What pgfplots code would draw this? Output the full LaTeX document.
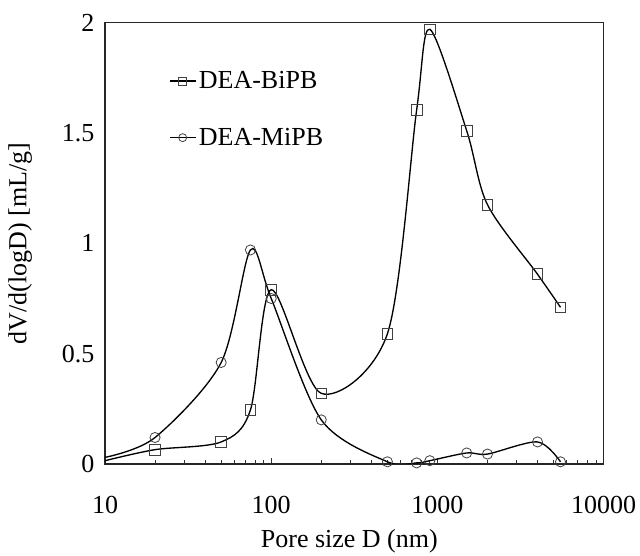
\documentclass[border=0pt]{standalone}
\usepackage{fontspec}
\setmainfont{Liberation Serif}
\usepackage{pgfplots}
\usepackage{pgfplotstable}
\pgfplotsset{compat=1.18}

% pore size distributions
\pgfplotstableread{
D     v
10    0.015
20    0.065
50    0.10
75    0.245
100   0.79
200   0.32
500   0.59
750   1.605
900   1.97
1500  1.51
2000  1.175
4000  0.86
5500  0.71
}\bipb

\pgfplotstableread{
D     v
10    0.03
20    0.12
50    0.46
75    0.97
100   0.75
200   0.20
500   0.01
750   0.005
900   0.015
1500  0.05
2000  0.045
4000  0.10
5500  0.01
}\mipb

\begin{document}
\begin{tikzpicture}
\path[use as bounding box] (-78.75pt,-69pt) rectangle (401.25pt,348pt);
\begin{axis}[
    at={(0,0)}, anchor=south west,
    scale only axis,
    width=374pt, height=331pt,
    xmode=log, log basis x=10,
    xmin=10, xmax=10000,
    ymin=0, ymax=2,
    xtick={10,100,1000,10000},
    xticklabels={10,100,1000,10000},
    minor xtick={20,30,40,50,60,70,80,90,200,300,400,500,600,700,800,900,
                 2000,3000,4000,5000,6000,7000,8000,9000},
    ytick={0,0.5,1,1.5,2},
    yticklabels={0,0.5,1,1.5,2},
    xtick pos=bottom, ytick pos=left,
    tick align=inside,
    major tick length=4.5pt, minor tick length=3pt,
    y tick style={draw=none},
    x tick style={black!80, line width=0.7pt},
    axis line style={line width=1.1pt, black!85},
    font=\fontsize{19.5}{23}\selectfont,
    xticklabel style={anchor=center, yshift=-31pt},
    yticklabel style={anchor=east, xshift=-4.5pt},
    xlabel={Pore size D (nm)},
    ylabel={dV/d(logD) [mL/g]},
    xlabel style={at={(axis description cs:0.49,-0.175)}, anchor=center},
    ylabel style={at={(axis description cs:-0.170,0.5)}, anchor=center},
    legend style={draw=none, fill=none, at={(axis description cs:0.12,0.902)},
        anchor=north west, row sep=24pt, font=\fontsize{19.5}{23}\selectfont},
    legend cell align=left,
    legend image code/.code={\draw[mark repeat=2,mark phase=2]
        plot coordinates {(0cm,0cm) (0.34cm,0cm) (0.68cm,0cm)};},
]
\addplot[black, line width=1pt, smooth, mark=square, mark size=4pt,
    mark indices={2,...,13},
    mark options={draw=black!75, line width=0.6pt, solid, fill=none},
    forget plot]
    table[x=D, y=v] {\bipb};
\addplot[black, line width=1pt, smooth, mark=o, mark size=3.8pt,
    mark indices={2,...,13},
    mark options={draw=black!75, line width=0.6pt, solid, fill=none},
    forget plot]
    table[x=D, y=v] {\mipb};
\addlegendimage{black, line width=1pt, mark=square, mark size=3pt,
    mark options={draw=black!75, line width=0.6pt, solid, fill=none}}
\addlegendentry{DEA-BiPB}
\addlegendimage{black, line width=1pt, mark=o, mark size=3pt,
    mark options={draw=black!75, line width=0.6pt, solid, fill=none}}
\addlegendentry{DEA-MiPB}
\end{axis}
\end{tikzpicture}
\end{document}
